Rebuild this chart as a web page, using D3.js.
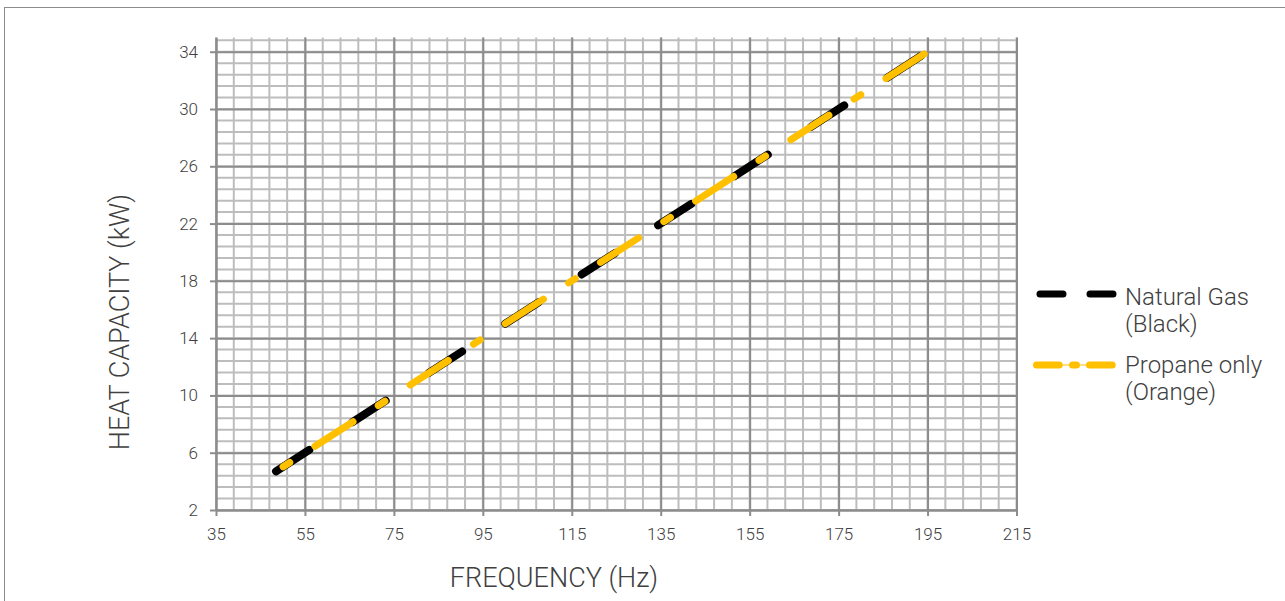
<!DOCTYPE html>
<html>
<head>
<meta charset="utf-8">
<script src="https://cdn.jsdelivr.net/npm/d3@7"></script>
<style>
  body { margin: 0; background: #fff; }
  svg { display: block; font-family: Roboto, "Open Sans", sans-serif; }
  .tick text { fill: #404040; font-weight: 300; }
</style>
</head>
<body>
<svg id="chart" width="1285" height="601"></svg>
<script>
// chart values
var freqGas = [48.5, 195];
var kwGas = [4.7, 34];
var freqPropane = [48.5, 195];
var kwPropane = [4.7, 34];

var xTicks = [35, 55, 75, 95, 115, 135, 155, 175, 195, 215];
var yTicks = [2, 6, 10, 14, 18, 22, 26, 30, 34];
var seriesNames = [["Natural Gas", "(Black)"], ["Propane only", "(Orange)"]];

var svg = d3.select("#chart");

// plot box in pixels
var plotL = 216, plotT = 37.4, plotR = 1016.5, plotB = 510;

var x = d3.scaleLinear().domain([35, 215]).range([plotL, plotR]);
var y = d3.scaleLinear().domain([2, 35]).range([plotB, plotT]);

// outer frame
svg.append("rect")
    .attr("x", 4.5).attr("y", 7.5)
    .attr("width", 1400).attr("height", 700)
    .attr("fill", "none").attr("stroke", "#8c8c8c").attr("stroke-width", 1);

// minor grid
var grid = svg.append("g");
grid.selectAll("line.vminor")
    .data(d3.range(35, 215.01, 4))
    .enter().append("line")
    .attr("x1", function(d) { return x(d) }).attr("x2", function(d) { return x(d) })
    .attr("y1", plotT).attr("y2", plotB)
    .attr("stroke", "#bdbdbd").attr("stroke-width", 2);
grid.selectAll("line.hminor")
    .data(d3.range(2, 35, 0.8))
    .enter().append("line")
    .attr("y1", function(d) { return y(d) }).attr("y2", function(d) { return y(d) })
    .attr("x1", plotL).attr("x2", plotR)
    .attr("stroke", "#bdbdbd").attr("stroke-width", 2);

// major grid
svg.append("g")
    .attr("transform", "translate(0," + plotB + ")")
    .call(d3.axisBottom(x).tickValues(xTicks).tickSize(-(plotB - plotT)).tickFormat(""))
    .call(function(g) { g.select(".domain").remove() })
    .selectAll("line").attr("stroke", "#8c8c8c").attr("stroke-width", 2);

svg.append("g")
    .attr("transform", "translate(" + plotL + ",0)")
    .call(d3.axisLeft(y).tickValues(yTicks).tickSize(-(plotR - plotL)).tickFormat(""))
    .call(function(g) { g.select(".domain").remove() })
    .selectAll("line").attr("stroke", "#8c8c8c").attr("stroke-width", 2);

// axes
var xAxis = d3.axisBottom(x).tickValues(xTicks).tickSizeOuter(0).tickSizeInner(6).tickPadding(12);
var yAxis = d3.axisLeft(y).tickValues(yTicks).tickSizeOuter(0).tickSizeInner(6).tickPadding(12);

var gx = svg.append("g")
    .attr("transform", "translate(0," + plotB + ")")
    .call(xAxis);
var gy = svg.append("g")
    .attr("transform", "translate(" + plotL + ",0)")
    .call(yAxis);

[gx, gy].forEach(function(g) {
    g.attr("font-family", null).attr("font-size", null);
    g.select(".domain").attr("stroke", "#8c8c8c").attr("stroke-width", 2);
    g.selectAll(".tick line").attr("stroke", "#8c8c8c").attr("stroke-width", 2);
    g.selectAll(".tick text").attr("font-size", 17);
});

// axis titles
svg.append("text")
    .attr("x", 554).attr("y", 587)
    .attr("text-anchor", "middle")
    .attr("fill", "#404040").attr("font-size", 27).attr("font-weight", 300)
    .text("FREQUENCY (Hz)");

svg.append("text")
    .attr("transform", "translate(129,322) rotate(-90)")
    .attr("text-anchor", "middle")
    .attr("fill", "#404040").attr("font-size", 27).attr("font-weight", 300)
    .text("HEAT CAPACITY (kW)");

// series
var line = d3.line()
    .x(function(d) { return x(d[0]) })
    .y(function(d) { return y(d[1]) });

svg.append("path")
    .attr("d", line(d3.zip(freqGas, kwGas)))
    .attr("fill", "none").attr("stroke", "#000")
    .attr("stroke-width", 8).attr("stroke-linecap", "round")
    .attr("stroke-dasharray", "39.5 51.4");

svg.append("path")
    .attr("d", line(d3.zip(freqPropane, kwPropane)))
    .attr("fill", "none").attr("stroke", "#ffc000")
    .attr("stroke-width", 7).attr("stroke-linecap", "round")
    .attr("stroke-dasharray", "45.3 30 7.9 30")
    .attr("stroke-dashoffset", 66.9);

// legend
var legend = svg.append("g");
legend.append("line")
    .attr("x1", 1040).attr("x2", 1113.2).attr("y1", 294).attr("y2", 294)
    .attr("stroke", "#000").attr("stroke-width", 7).attr("stroke-linecap", "round")
    .attr("stroke-dasharray", "23 27");
legend.append("line")
    .attr("x1", 1036.5).attr("x2", 1112.2).attr("y1", 365).attr("y2", 365)
    .attr("stroke", "#ffc000").attr("stroke-width", 1);
legend.append("line")
    .attr("x1", 1036.5).attr("x2", 1112.2).attr("y1", 365).attr("y2", 365)
    .attr("stroke", "#ffc000").attr("stroke-width", 7).attr("stroke-linecap", "round")
    .attr("stroke-dasharray", "22.7 13.3 4 13");

var legendY = [305, 373];
seriesNames.forEach(function(name, i) {
    var t = legend.append("text")
        .attr("x", 1125).attr("y", legendY[i])
        .attr("fill", "#404040").attr("font-size", 24).attr("font-weight", 300);
    t.append("tspan").attr("x", 1125).text(name[0]);
    t.append("tspan").attr("x", 1125).attr("dy", 27).text(name[1]);
});
</script>
</body>
</html>
